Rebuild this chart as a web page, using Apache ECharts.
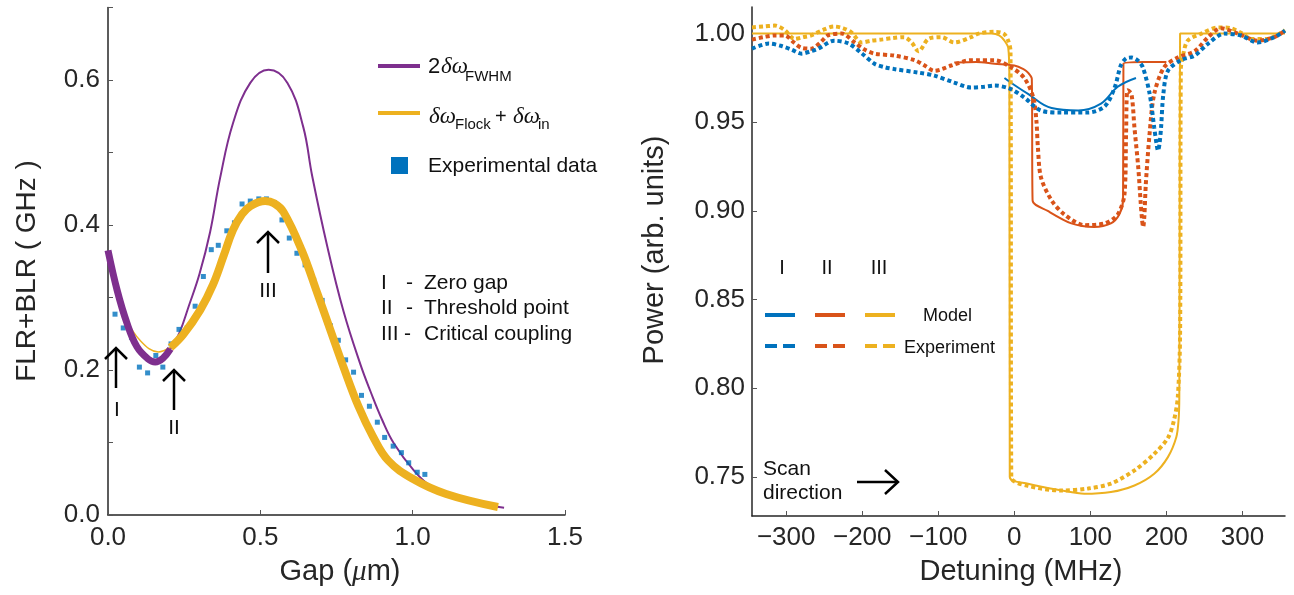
<!DOCTYPE html>
<html>
<head>
<meta charset="utf-8">
<script src="https://cdn.jsdelivr.net/npm/echarts@6.0.0/dist/echarts.min.js"></script>
<style>
  html, body { margin: 0; padding: 0; background: #fff; }
  #main { width: 1294px; height: 595px; }
</style>
</head>
<body>
<div id="main"></div>
<script>
// left panel: linewidths vs gap (um)
var fwhmThick = [[0, 0.365], [0.03, 0.31], [0.062, 0.265], [0.095, 0.232], [0.132, 0.215], [0.155, 0.211], [0.18, 0.216], [0.205, 0.229]];
var fwhmThin = [[0.205, 0.229], [0.235, 0.252], [0.265, 0.288], [0.30, 0.332], [0.335, 0.39], [0.368, 0.465], [0.41, 0.54], [0.467, 0.596], [0.527, 0.614],
  [0.589, 0.596], [0.641, 0.535], [0.67, 0.468], [0.72, 0.37], [0.773, 0.281], [0.829, 0.207], [0.862, 0.170], [0.9, 0.131], [0.938, 0.099],
  [1.003, 0.062], [1.06, 0.040], [1.168, 0.021], [1.30, 0.01]];
var flockThin = [[0, 0.352], [0.03, 0.302], [0.056, 0.273], [0.105, 0.241], [0.165, 0.225], [0.205, 0.231]];
var flockThick = [[0.205, 0.231], [0.247, 0.249], [0.303, 0.283], [0.345, 0.318], [0.38, 0.358], [0.41, 0.393], [0.44, 0.415], [0.467, 0.426],
  [0.516, 0.433], [0.545, 0.43], [0.576, 0.418], [0.636, 0.365], [0.687, 0.306], [0.73, 0.255], [0.773, 0.204], [0.822, 0.150],
  [0.87, 0.108], [0.92, 0.075], [1.0, 0.050], [1.11, 0.029], [1.28, 0.011]];
var expData = [[0.023, 0.277], [0.05, 0.258], [0.077, 0.245], [0.103, 0.204], [0.13, 0.196], [0.157, 0.22], [0.18, 0.204], [0.207, 0.236],
  [0.233, 0.256], [0.26, 0.258], [0.286, 0.288], [0.313, 0.329], [0.339, 0.366], [0.362, 0.372], [0.39, 0.392], [0.415, 0.403],
  [0.44, 0.429], [0.467, 0.433], [0.495, 0.436], [0.52, 0.436], [0.546, 0.431], [0.571, 0.407], [0.595, 0.382], [0.62, 0.361],
  [0.647, 0.345], [0.675, 0.324], [0.703, 0.296], [0.73, 0.261], [0.756, 0.241], [0.78, 0.214], [0.806, 0.197], [0.832, 0.165],
  [0.858, 0.150], [0.884, 0.128], [0.908, 0.107], [0.936, 0.095], [0.963, 0.086], [0.987, 0.072], [1.015, 0.059], [1.04, 0.056]];

// right panel: power vs detuning (MHz)
var modelI = [[-13, 0.975], [0, 0.971], [18, 0.966], [49, 0.958], [84, 0.9566], [114, 0.9605], [136, 0.970], [160, 0.975]];
var modelII = [[-79, 0.9837], [-50, 0.984], [-26, 0.983], [0, 0.982], [12, 0.980], [18, 0.978], [23, 0.9745], [24, 0.906], [44, 0.900],
  [75, 0.893], [105, 0.891], [127, 0.893], [138, 0.898], [143, 0.906], [143.5, 0.983], [170, 0.984], [200, 0.984]];
var modelIII = [[-345, 1.0], [-30, 1.0], [-20, 0.999], [-13, 0.996], [-8, 0.992], [-6.5, 0.975], [-6, 0.750], [18, 0.7462], [62, 0.7424],
  [92, 0.7405], [127, 0.7415], [158, 0.7452], [184, 0.7518], [202, 0.7612], [213, 0.7724], [216, 0.782], [217, 0.795], [217.5, 0.9],
  [218, 1.0], [356, 1.0]];
var expI = [[-345, 0.9915], [-323, 0.9944], [-306, 0.993], [-293, 0.991], [-280, 0.9887], [-268, 0.990], [-258, 0.9915], [-237, 0.996],
  [-218, 0.9944], [-201, 0.989], [-184, 0.983], [-170, 0.981], [-158, 0.980], [-126, 0.978], [-105, 0.9763], [-79, 0.9724], [-57, 0.9696],
  [-40, 0.970], [-26, 0.9707], [-6, 0.969], [13, 0.964], [35, 0.9566], [62, 0.9555], [97, 0.9555], [119, 0.959], [132, 0.9696],
  [140, 0.982], [147, 0.986], [154, 0.9865], [162, 0.985], [169, 0.981], [178, 0.966], [184, 0.947], [187, 0.938], [189, 0.934], [191, 0.938],
  [193, 0.947], [196, 0.966], [202, 0.979], [219, 0.985], [237, 0.9876], [255, 0.9944], [276, 1.0], [298, 0.9989], [320, 0.995], [342, 0.998], [356, 1.0017]];
var expII = [[-345, 0.9966], [-330, 0.998], [-315, 0.999], [-302, 0.999], [-290, 0.995], [-280, 0.992], [-267, 0.9915], [-255, 0.995],
  [-245, 0.999], [-227, 1.0], [-210, 0.995], [-197, 0.991], [-184, 0.9887], [-158, 0.9876], [-131, 0.985], [-118, 0.982], [-105, 0.979],
  [-95, 0.980], [-83, 0.982], [-57, 0.985], [-47, 0.985], [-26, 0.985], [-4, 0.981], [13, 0.975], [25, 0.964], [29, 0.951], [31, 0.936],
  [35, 0.919], [49, 0.906], [66, 0.898], [92, 0.892], [119, 0.893], [136, 0.898], [145, 0.910], [147, 0.944], [149, 0.968], [154, 0.966],
  [158, 0.947], [163, 0.9245], [166, 0.906], [168, 0.895], [169.5, 0.891], [171, 0.897], [173, 0.9155], [178, 0.944], [184, 0.966],
  [197, 0.981], [215, 0.9865], [237, 0.990], [255, 0.998], [272, 1.003], [294, 1.0], [320, 0.996], [342, 0.998], [356, 1.0017]];
var expIII = [[-345, 1.0035], [-330, 1.004], [-315, 1.0045], [-302, 1.002], [-289, 0.997], [-278, 0.998], [-267, 0.999], [-252, 1.002],
  [-237, 1.004], [-225, 1.003], [-214, 1.0006], [-201, 0.995], [-188, 0.996], [-175, 0.9966], [-160, 0.9975], [-145, 0.998], [-135, 0.995],
  [-126, 0.990], [-113, 0.997], [-96, 0.998], [-79, 0.995], [-57, 0.998], [-47, 1.0], [-26, 1.001], [-14, 1.0], [-8, 0.996], [-5, 0.99],
  [-4, 0.75], [18, 0.745], [62, 0.7424], [97, 0.7435], [127, 0.7463], [158, 0.7537], [184, 0.763], [202, 0.772], [210, 0.782], [215, 0.795],
  [218, 0.83], [219, 0.98], [222, 0.988], [228, 0.996], [246, 1.0], [268, 1.0035], [285, 1.003], [300, 1.0], [311, 0.997], [333, 0.997],
  [345, 0.999], [356, 1.002]];

var detuneTicks = [-300, -200, -100, 0, 100, 200, 300];
var powerTicks = [0.75, 0.80, 0.85, 0.90, 0.95, 1.00];

var purple = '#7E2F8E', orange = '#EDB120', blue = '#0072BD', red = '#D95319';
var ink = '#262626';
var font = 'Liberation Sans';

var myChart = echarts.init(document.getElementById('main'));

function axisBase() {
    return {
        type: 'value',
        splitLine: { show: false },
        axisLine: { show: true, onZero: false, lineStyle: { color: ink, width: 1.5 } },
        axisTick: { show: true, inside: true, length: 5, lineStyle: { color: '#555', width: 1 } },
        axisLabel: { color: ink, fontSize: 26, fontFamily: font }
    };
}

function txt(x, y, s, size, extra, rot) {
    var st = { text: s, x: 0, y: 0, fontSize: size, fontFamily: font, fill: '#111', align: 'left', verticalAlign: 'middle' };
    for (var k in extra) st[k] = extra[k];
    return { type: 'text', x: x, y: y, rotation: rot || 0, style: st, z: 100 };
}
function seg(pts, color, w) {
    return { type: 'polyline', shape: { points: pts }, style: { stroke: color, lineWidth: w, fill: null }, z: 100 };
}

var xl = axisBase();
xl.gridIndex = 0; xl.min = 0; xl.max = 1.5; xl.interval = 0.5;
xl.axisLabel.margin = 10;
xl.axisLabel.formatter = function (v) { return v.toFixed(1); };

var yl = axisBase();
yl.gridIndex = 0; yl.min = 0; yl.max = 0.7; yl.interval = 0.1;
yl.axisLabel.margin = 8;
yl.axisLabel.formatter = function (v) { return Math.round(v * 10) % 2 === 0 ? v.toFixed(1) : ''; };

var xr = axisBase();
xr.gridIndex = 1; xr.min = -345; xr.max = 356;
xr.axisTick.customValues = detuneTicks;
xr.axisLabel.customValues = detuneTicks;
xr.axisLabel.margin = 9;
xr.axisLabel.formatter = function (v) { return v < 0 ? '\u2212' + (-v) : '' + v; };

var yr = axisBase();
yr.gridIndex = 1; yr.min = 0.728; yr.max = 1.015;
yr.axisTick.customValues = powerTicks;
yr.axisLabel.customValues = powerTicks;
yr.axisLabel.margin = 7;
yr.axisLabel.formatter = function (v) { return v.toFixed(2); };

function line(data, color, w, xi, dash, smooth, z) {
    return {
        type: 'line', xAxisIndex: xi, yAxisIndex: xi, data: data, showSymbol: false, symbol: 'none',
        smooth: smooth, z: z || 2, silent: true,
        lineStyle: { color: color, width: w, type: dash || 'solid', cap: 'butt' }
    };
}

option = {
    animation: false,
    backgroundColor: '#fff',
    grid: [
        { left: 108, top: 7.5, width: 457, height: 507.5, containLabel: false, outerBoundsMode: 'none' },
        { left: 752, top: 7, width: 533, height: 509, containLabel: false, outerBoundsMode: 'none' }
    ],
    xAxis: [xl, xr],
    yAxis: [yl, yr],
    series: [
        line(fwhmThin, purple, 2, 0, null, 0.4, 2),
        line(flockThin, orange, 1.5, 0, null, 0.4, 2),
        {
            type: 'scatter', xAxisIndex: 0, yAxisIndex: 0, data: expData, symbol: 'rect', symbolSize: 5,
            itemStyle: { color: blue }, z: 3, silent: true
        },
        line(fwhmThick, purple, 7, 0, null, 0.4, 4),
        line(flockThick, orange, 8, 0, null, 0.4, 4),

        line(modelIII, orange, 2, 1, null, 0.3, 2),
        line(modelII, red, 2, 1, null, 0.3, 2),
        line(modelI, blue, 2, 1, null, 0.4, 2),
        line(expIII, orange, 4, 1, [4, 3], 0.3, 3),
        line(expII, red, 4, 1, [4, 3], 0.3, 3),
        line(expI, blue, 4, 1, [4, 3], 0.3, 3)
    ],
    graphic: [
        // axis titles
        txt(27, 271, 'FLR+BLR ( GHz )', 28, { align: 'center', fill: ink }, Math.PI / 2),
        txt(340, 572, 'Gap ({i|\u03bc}m)', 29, { align: 'center', fill: ink, rich: { i: { fontSize: 29, fontStyle: 'italic', fontFamily: 'Liberation Serif', fill: ink } } }),
        txt(655, 250, 'Power (arb. units)', 29, { align: 'center', fill: ink }, Math.PI / 2),
        txt(1021, 572, 'Detuning (MHz)', 29, { align: 'center', fill: ink }),

        // left legend
        seg([[378, 66], [420, 66]], purple, 4),
        txt(428, 67, '2', 22),
        txt(441, 67, '\u03b4\u03c9', 23, { fontStyle: 'italic', fontFamily: 'Liberation Serif' }),
        txt(465, 77, 'FWHM', 15),
        seg([[378, 113], [420, 113]], orange, 4),
        txt(429, 117, '\u03b4\u03c9', 23, { fontStyle: 'italic', fontFamily: 'Liberation Serif' }),
        txt(455, 125, 'Flock', 15),
        txt(495, 117, '+', 20),
        txt(513, 117, '\u03b4\u03c9', 23, { fontStyle: 'italic', fontFamily: 'Liberation Serif' }),
        txt(538, 125, 'in', 15),
        { type: 'rect', shape: { x: 391, y: 157, width: 17, height: 17 }, style: { fill: blue }, z: 100 },
        txt(428, 166, 'Experimental data', 21),

        // left notes
        txt(381, 283, 'I', 21), txt(406, 283, '-', 21), txt(424, 283, 'Zero gap', 21),
        txt(381, 308, 'II', 21), txt(406, 308, '-', 21), txt(424, 308, 'Threshold point', 21),
        txt(381, 334, 'III', 21), txt(404, 334, '-', 21), txt(424, 334, 'Critical coupling', 21),

        // arrows on the left panel
        seg([[116, 388], [116, 349]], '#000', 2.5), seg([[105, 359], [116, 348], [127, 359]], '#000', 2.5),
        txt(117, 410, 'I', 21, { align: 'center' }),
        seg([[174, 410], [174, 371]], '#000', 2.5), seg([[163, 381], [174, 370], [185, 381]], '#000', 2.5),
        txt(174, 428, 'II', 21, { align: 'center' }),
        seg([[268, 273], [268, 233]], '#000', 2.5), seg([[257, 243], [268, 232], [279, 243]], '#000', 2.5),
        txt(268, 291, 'III', 21, { align: 'center' }),

        // right legend
        txt(782, 268, 'I', 20, { align: 'center' }),
        txt(827, 268, 'II', 20, { align: 'center' }),
        txt(879, 268, 'III', 20, { align: 'center' }),
        seg([[765, 315], [795, 315]], blue, 4),
        seg([[815, 315], [845, 315]], red, 4),
        seg([[865, 315], [895, 315]], orange, 4),
        txt(923, 316, 'Model', 18),
        seg([[765, 346], [777, 346]], blue, 4), seg([[783, 346], [795, 346]], blue, 4),
        seg([[815, 346], [827, 346]], red, 4), seg([[833, 346], [845, 346]], red, 4),
        seg([[865, 346], [877, 346]], orange, 4), seg([[883, 346], [895, 346]], orange, 4),
        txt(904, 348, 'Experiment', 18),

        // scan direction
        txt(763, 469, 'Scan', 21),
        txt(763, 493, 'direction', 21),
        seg([[857, 482], [897, 482]], '#000', 2.5), seg([[885, 470], [898, 482], [885, 494]], '#000', 2.5)
    ]
};
myChart.setOption(option);
</script>
</body>
</html>
